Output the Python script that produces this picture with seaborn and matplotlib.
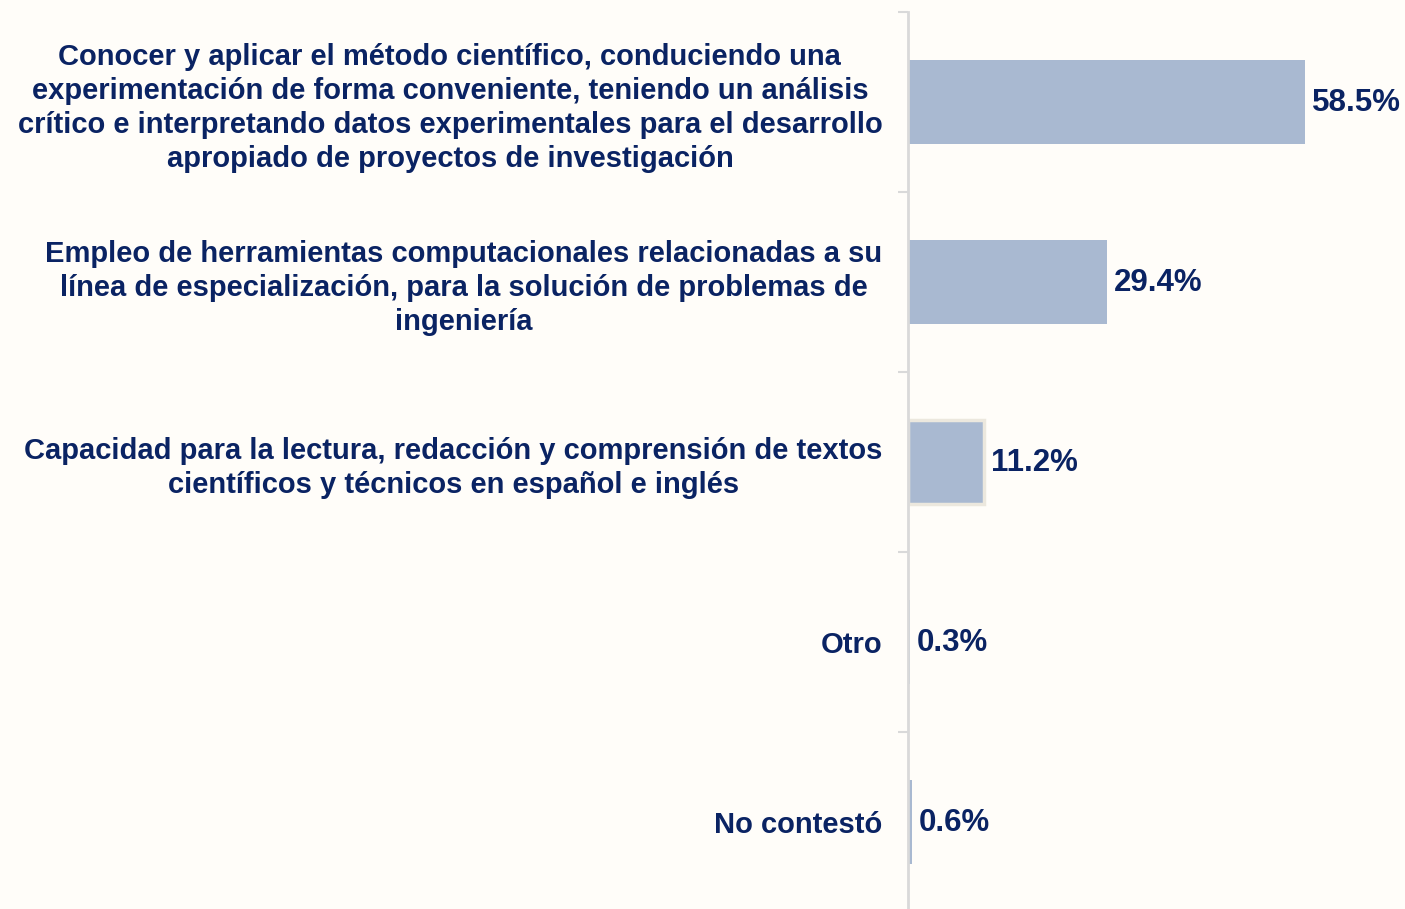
import numpy as np
import pandas as pd
import seaborn as sns
import matplotlib.pyplot as plt

# respuestas de la encuesta (porcentaje)
categorias = [
    "Conocer y aplicar el método científico, conduciendo una\n"
    "experimentación de forma conveniente, teniendo un análisis\n"
    "crítico e interpretando datos experimentales para el desarrollo\n"
    "apropiado de proyectos de investigación",
    "Empleo de herramientas computacionales relacionadas a su\n"
    "línea de especialización, para la solución de problemas de\n"
    "ingeniería",
    "Capacidad para la lectura, redacción y comprensión de textos\n"
    "científicos y técnicos en español e inglés",
    "Otro",
    "No contestó",
]
porcentajes = [58.5, 29.4, 11.2, 0.3, 0.6]
etiquetas = ["58.5%", "29.4%", "11.2%", "0.3%", "0.6%"]

fondo = "#FFFDF9"
azul_barra = "#A9B9D1"
azul_texto = "#0A2363"

df = pd.DataFrame({"categoria": categorias, "pct": porcentajes})

sns.set_style("white")
plt.rcParams["font.family"] = ["Liberation Sans", "DejaVu Sans"]

fig = plt.figure(figsize=(14.05, 9.09), dpi=100, facecolor=fondo)
ax = fig.add_axes([908 / 1405, -3 / 909, 497 / 1405, 900 / 909])
ax.set_facecolor(fondo)

sns.barplot(data=df, x="pct", y="categoria", color=azul_barra, width=0.47,
            saturation=1, ax=ax, linewidth=0)

# el tercer rectángulo tiene un borde claro
ax.patches[2].set_edgecolor("#ECE8DE")
ax.patches[2].set_linewidth(2.5)

for p, txt in zip(ax.patches, etiquetas):
    ax.annotate(txt, (p.get_width(), p.get_y() + p.get_height() / 2),
                xytext=(5, -1), textcoords="offset points", va="center", ha="left",
                fontsize=22.5, fontweight="bold", color=azul_texto)

ax.set_xlim(0, 73.3)
ax.set_ylim(4.5, -0.5)
ax.set_xlabel("")
ax.set_ylabel("")
ax.set_xticks([])

ax.set_yticks(np.arange(-0.5, 5, 1), minor=True)
ax.tick_params(axis="y", which="minor", length=7, width=1.5, color="#D9D9D9", left=True)
ax.tick_params(axis="y", which="major", length=0, pad=18.5)
for lbl in ax.get_yticklabels():
    lbl.set_fontsize(21)
    lbl.set_fontweight("bold")
    lbl.set_color(azul_texto)
    lbl.set_multialignment("center")
    lbl.set_linespacing(1.28)

for s in ["top", "right", "bottom"]:
    ax.spines[s].set_visible(False)
ax.spines["left"].set_color("#D9D9D9")
ax.spines["left"].set_linewidth(2)

fig.savefig("out.png", dpi=100, facecolor=fondo)
